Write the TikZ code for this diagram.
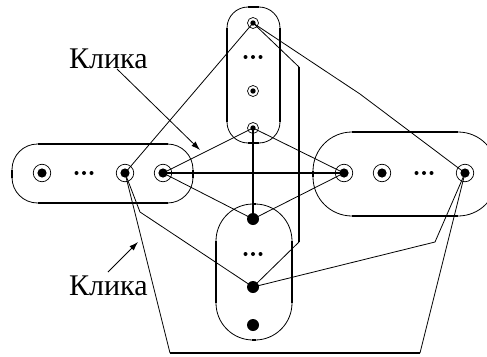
\documentclass[tikz,border=0pt]{standalone}
\usepackage{fontspec}
\newfontfamily\labfont{Liberation Serif}
\usetikzlibrary{arrows.meta}
\tikzset{
  thinln/.style={line width=0.8pt},
  thickln/.style={line width=2.4pt},
  smalleye/.style={circle, draw, line width=0.7pt, minimum size=11pt, inner sep=0pt,
    path picture={\fill[black] (path picture bounding box.center) circle (2.7pt);}},
  bigeye/.style={circle, draw, line width=0.7pt, minimum size=17.5pt, inner sep=0pt,
    path picture={\fill[black] (path picture bounding box.center) circle (4.6pt);}},
  bdot/.style={circle, fill=black, minimum size=12pt, inner sep=0pt},
  dotsnode/.style={minimum width=20pt, minimum height=6pt, inner sep=0pt,
    path picture={
      \fill[black] ([xshift=-7.5pt]path picture bounding box.center) circle (2pt);
      \fill[black] (path picture bounding box.center) circle (2pt);
      \fill[black] ([xshift=7.5pt]path picture bounding box.center) circle (2pt);}},
  lab/.style={anchor=base west, inner sep=0pt, font=\labfont\fontsize{30}{36}\selectfont},
  arr/.style={thinln, -{Latex[length=9pt,width=6pt]}}
}
\begin{document}
\begin{tikzpicture}[x=1pt,y=-1pt]
\useasboundingbox (0,0) rectangle (487,356);
\clip (0,0) rectangle (487,356);

% containers
\draw[thinln, rounded corners=21pt] (227,7) rectangle (280,143);
\draw[thickln] (227,28) -- (227,122) (280,28) -- (280,122) (248,7) -- (259,7) (248,143) -- (259,143);

\draw[thinln, rounded corners=25.5pt] (12,144) rectangle (193,203);
\draw[thickln] (37.5,144) -- (167.5,144) (37.5,203) -- (167.5,203) (12,169.5) -- (12,177.5) (193,169.5) -- (193,177.5);

\draw[thinln, rounded corners=39pt] (313,132) rectangle (497,216);
\draw[thickln] (352,132) -- (458,132) (352,216) -- (458,216) (313,171) -- (313,177);

\draw[thinln, rounded corners=37pt] (216,204) rectangle (292,340);
\draw[thickln] (216,241) -- (216,303) (292,241) -- (292,303) (252,204) -- (256,204) (252,340) -- (256,340);

% nodes
\node[smalleye] (t1) at (253,23) {};
\node[dotsnode] (td) at (253,57) {};
\node[smalleye] (t2) at (253,91) {};
\node[smalleye] (t3) at (253,128) {};

\node[bigeye] (l1) at (42,173) {};
\node[dotsnode] (ld) at (84,173) {};
\node[bigeye] (l3) at (125,173) {};
\node[bigeye] (l4) at (163,173) {};

\node[bigeye] (r1) at (344,173) {};
\node[bigeye] (r2) at (382,173) {};
\node[dotsnode] (rd) at (424,173) {};
\node[bigeye] (r4) at (465,173) {};

\node[bdot] (b1) at (253,219) {};
\node[dotsnode] (bd) at (253,254) {};
\node[bdot] (b2) at (253,287) {};
\node[bdot] (b3) at (253,325) {};

% bend points
\coordinate (k1) at (140,212);
\coordinate (k2) at (435,242);
\coordinate (k3) at (299,67);
\coordinate (k4) at (299,242);
\coordinate (k5) at (360,94);
\coordinate (p1) at (170,353);
\coordinate (p2) at (420,353);

% edges
\draw[thinln] (t1.center) -- (l3.center);
\draw[thinln] (t1.center) -- (k3);
\draw[thickln] (k3) -- (k4);
\draw[thinln] (k4) -- (b2.center);
\draw[thinln] (t1.center) -- (k5) -- (r4.center);
\draw[thinln] (t3.center) -- (l4.center);
\draw[thinln] (t3.center) -- (r1.center);
\draw[thickln] (t3.center) -- (b1.center);
\draw[thickln] (l4.center) -- (r1.center);
\draw[thinln] (l4.center) -- (b1.center);
\draw[thinln] (b1.center) -- (r1.center);
\draw[thinln] (l3.center) -- (k1) -- (b2.center);
\draw[thinln] (r4.center) -- (k2) -- (b2.center);
\draw[thinln] (l3.center) -- (p1);
\draw[thickln] (p1) -- (p2);
\draw[thinln] (p2) -- (r4.center);

% labels
\node[lab] (lab1) at (69,68) {Клика};
\node[lab] (lab2) at (69,295) {Клика};
\coordinate (a1s) at (117,69);
\coordinate (a1e) at (200,150);
\coordinate (a2s) at (108,272);
\coordinate (a2e) at (138,242);
\draw[arr] (a1s) -- (a1e);
\draw[arr] (a2s) -- (a2e);
\end{tikzpicture}
\end{document}
